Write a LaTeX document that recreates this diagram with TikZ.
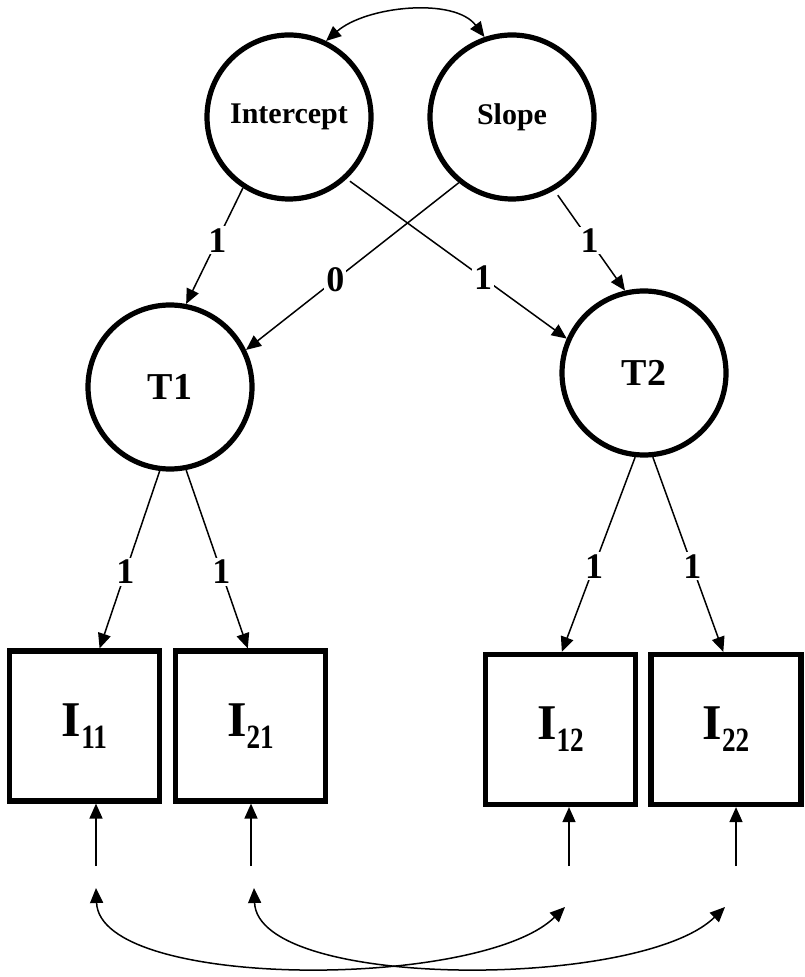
\documentclass[tikz,border=0pt]{standalone}
\usepackage{fontspec}
\setmainfont{Liberation Serif}
\usepackage{graphicx}
\usetikzlibrary{arrows.meta}

% narrow lowered index for the indicator boxes
\newcommand{\idx}[1]{\raisebox{-6pt}{\scalebox{0.8}[1]{\fontsize{17}{17}\selectfont #1}}}

\begin{document}
\begin{tikzpicture}[x=0.5pt, y=-0.5pt,
  latent/.style={circle, draw, line width=2.6pt, minimum size=82pt, inner sep=0pt,
    font=\fontsize{15}{15}\selectfont\bfseries},
  observed/.style={rectangle, draw, line width=2.6pt, minimum width=75pt,
    minimum height=75pt, inner sep=0pt, font=\fontsize{25}{25}\selectfont\bfseries},
  load/.style={-{Triangle[length=7.5pt,width=6.5pt]}, line width=0.75pt},
  cov/.style={{Triangle[length=7.5pt,width=6.5pt]}-{Triangle[length=7.5pt,width=6.5pt]}, line width=0.75pt},
  coef/.style={fill=white, inner sep=1pt, font=\fontsize{18}{18}\selectfont\bfseries}]
  \useasboundingbox (0,0) rectangle (804,977);

  % 1. Growth factors
  \node[latent] (int) at (289,117) {Intercept};
  \node[latent] (slp) at (512,117) {Slope};

  % 2. Occasion factors
  \node[latent, font=\fontsize{19}{19}\selectfont\bfseries] (t1) at (170,387) {T1};
  \node[latent, font=\fontsize{19}{19}\selectfont\bfseries] (t2) at (644,373) {T2};

  % 3. Indicators
  \node[observed] (i11) at (84.5,726) {I\idx{11}};
  \node[observed] (i21) at (250.5,726) {I\idx{21}};
  \node[observed] (i12) at (560.5,729.5) {I\idx{12}};
  \node[observed] (i22) at (726,729.5) {I\idx{22}};

  % 4. Error terms (free ends)
  \coordinate (e11) at (96,866);
  \coordinate (e21) at (251,866);
  \coordinate (e12) at (569,866);
  \coordinate (e22) at (736,866);
  \coordinate (c11) at (96,888);
  \coordinate (c21) at (254,888);
  \coordinate (c12) at (565,907);
  \coordinate (c22) at (725,907);

  % 5. Loadings of the growth factors
  \draw[load] (int.237) -- node[coef, pos=0.45] {1} (t1.79);
  \draw[load, shorten <=2pt] (int.313) -- node[coef, pos=0.62] {1} (t2.156);
  \draw[load] (slp.231) -- node[coef, pos=0.58] {0} (t1.26);
  \draw[load, shorten <=3pt] (slp.300) -- node[coef, pos=0.5] {1} (t2.103);
  \draw[cov] (int.64) .. controls +(40,-35) and +(-30,-40) .. (slp.109);

  % 6. Loadings of the indicators
  \draw[load] (t1.263) -- node[coef, pos=0.57] {1} (i11.79);
  \draw[load] (t1.281) -- node[coef, pos=0.57] {1} (i21.92);
  \draw[load] (t2.264) -- node[coef, pos=0.56] {1} (i12.89);
  \draw[load] (t2.276) -- node[coef, pos=0.56] {1} (i22.92);

  % 7. Errors and their covariances
  \draw[load] (e11) -- (e11 |- i11.south);
  \draw[load] (e21) -- (e21 |- i21.south);
  \draw[load] (e12) -- (e12 |- i12.south);
  \draw[load] (e22) -- (e22 |- i22.south);
  \draw[cov] (c11) .. controls +(4,102) and +(-85,83) .. (c12);
  \draw[cov] (c21) .. controls +(4,102) and +(-85,83) .. (c22);
\end{tikzpicture}
\end{document}
